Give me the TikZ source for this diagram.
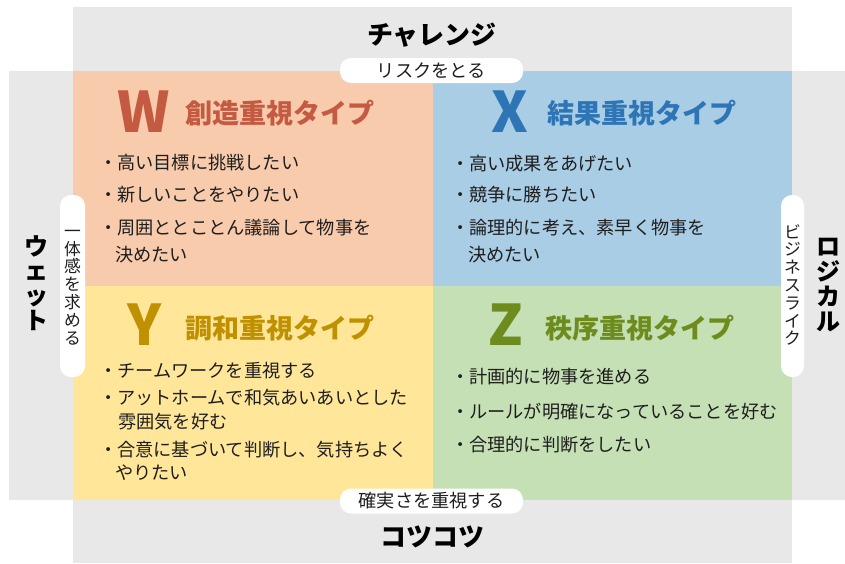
\documentclass[tikz,border=0pt]{standalone}
\usepackage{fontspec}
\setmainfont{Noto Sans CJK JP}
\definecolor{bandgray}{HTML}{E8E8E8}
\definecolor{qpeach}{HTML}{F8CBAD}
\definecolor{qblue}{HTML}{AACDE6}
\definecolor{qyellow}{HTML}{FFE699}
\definecolor{qgreen}{HTML}{C5E0B4}
\definecolor{cw}{HTML}{C55A43}
\definecolor{cx}{HTML}{2E75B6}
\definecolor{cy}{HTML}{BF9000}
\definecolor{cz}{HTML}{6E8C1E}
\definecolor{txt}{HTML}{1E1E1E}
\tikzset{
  bul/.style={anchor=west, inner sep=0pt, text=txt, font=\fontsize{18.2}{20}\selectfont},
  ttl/.style={anchor=west, inner sep=0pt, font=\bfseries\fontsize{27}{30}\selectfont},
  letter/.style={inner sep=0pt, font=\bfseries\fontsize{56}{60}\selectfont},
  biglabel/.style={inner sep=0pt, text=black, font=\bfseries\fontsize{26}{28}\selectfont},
  vbig/.style={inner sep=0pt, text=black, align=center, font=\bfseries\fontsize{24}{24.7}\selectfont},
  pill/.style={fill=white, rounded corners=11pt, inner sep=0pt},
  pilltext/.style={inner sep=0pt, text=txt, font=\fontsize{18.2}{20}\selectfont},
  vpilltext/.style={inner sep=0pt, text=txt, align=center, font=\fontsize{16.8}{17.8}\selectfont},
}
\begin{document}
\begin{tikzpicture}[x=1pt, y=-1pt]
\useasboundingbox (0,0) rectangle (845,563);
% gray bands
\fill[bandgray] (73,7) rectangle (792,563);
\fill[bandgray] (9,71) rectangle (845,500);
% quadrants
\fill[qpeach] (73,71) rectangle (433,286);
\fill[qblue] (433,71) rectangle (792,286);
\fill[qyellow] (73,286) rectangle (433,500);
\fill[qgreen] (433,286) rectangle (792,500);

% big axis labels
\node[biglabel] (top) at (432,35) {チャレンジ};
\node[biglabel] (bottom) at (432,537) {コツコツ};
\node[vbig] (left) at (36,283) {ウ\\ェ\\ッ\\ト};
\node[vbig] (right) at (828,285) {ロ\\ジ\\カ\\ル};

% pills
\node[pill, minimum width=183pt, minimum height=25pt] (ptop) at (431.5,70.5) {};
\node[pilltext] (ptopt) at (ptop.center) {リスクをとる};
\node[pill, minimum width=183pt, minimum height=25pt] (pbot) at (431.5,501) {};
\node[pilltext] (pbott) at (pbot.center) {確実さを重視する};
\node[pill, minimum width=25pt, minimum height=182pt] (pleft) at (72.5,286) {};
\node[vpilltext] (plt) at (72.5,287.5) {一\\体\\感\\を\\求\\め\\る};
\node[pill, minimum width=23pt, minimum height=182pt] (pright) at (792.5,286) {};
\node[vpilltext] (prt) at (792.5,285) {ビ\\ジ\\ネ\\ス\\ラ\\イ\\ク};

% W quadrant
\node[letter, text=cw] (lw) at (143.5,112) {W};
\node[ttl, text=cw] (tw) at (185,113) {創造重視タイプ};
\node[bul] (w1) at (98.8,163) {・高い目標に挑戦したい};
\node[bul] (w2) at (98.8,195) {・新しいことをやりたい};
\node[bul] (w3) at (98.8,228) {・周囲ととことん議論して物事を};
\node[bul] (w4) at (115,255) {決めたい};

% X quadrant
\node[letter, text=cx] (lx) at (510,112) {X};
\node[ttl, text=cx] (tx) at (547,113) {結果重視タイプ};
\node[bul] (x1) at (450.8,164) {・高い成果をあげたい};
\node[bul] (x2) at (450.8,195) {・競争に勝ちたい};
\node[bul] (x3) at (450.8,228) {・論理的に考え、素早く物事を};
\node[bul] (x4) at (468,255) {決めたい};

% Y quadrant
\node[letter, text=cy] (ly) at (145,325) {Y};
\node[ttl, text=cy] (ty) at (185,328) {調和重視タイプ};
\node[bul] (y1) at (98.8,371) {・チームワークを重視する};
\node[bul] (y2) at (98.8,398) {・アットホームで和気あいあいとした};
\node[bul] (y3) at (118,422) {雰囲気を好む};
\node[bul] (y4) at (98.8,450) {・合意に基づいて判断し、気持ちよく};
\node[bul] (y5) at (115,473) {やりたい};

% Z quadrant
\node[letter, text=cz] (lz) at (506,325) {Z};
\node[ttl, text=cz] (tz) at (545,328) {秩序重視タイプ};
\node[bul] (z1) at (450.8,377) {・計画的に物事を進める};
\node[bul] (z2) at (450.8,412) {・ルールが明確になっていることを好む};
\node[bul] (z3) at (450.8,445) {・合理的に判断をしたい};
\end{tikzpicture}
\end{document}
